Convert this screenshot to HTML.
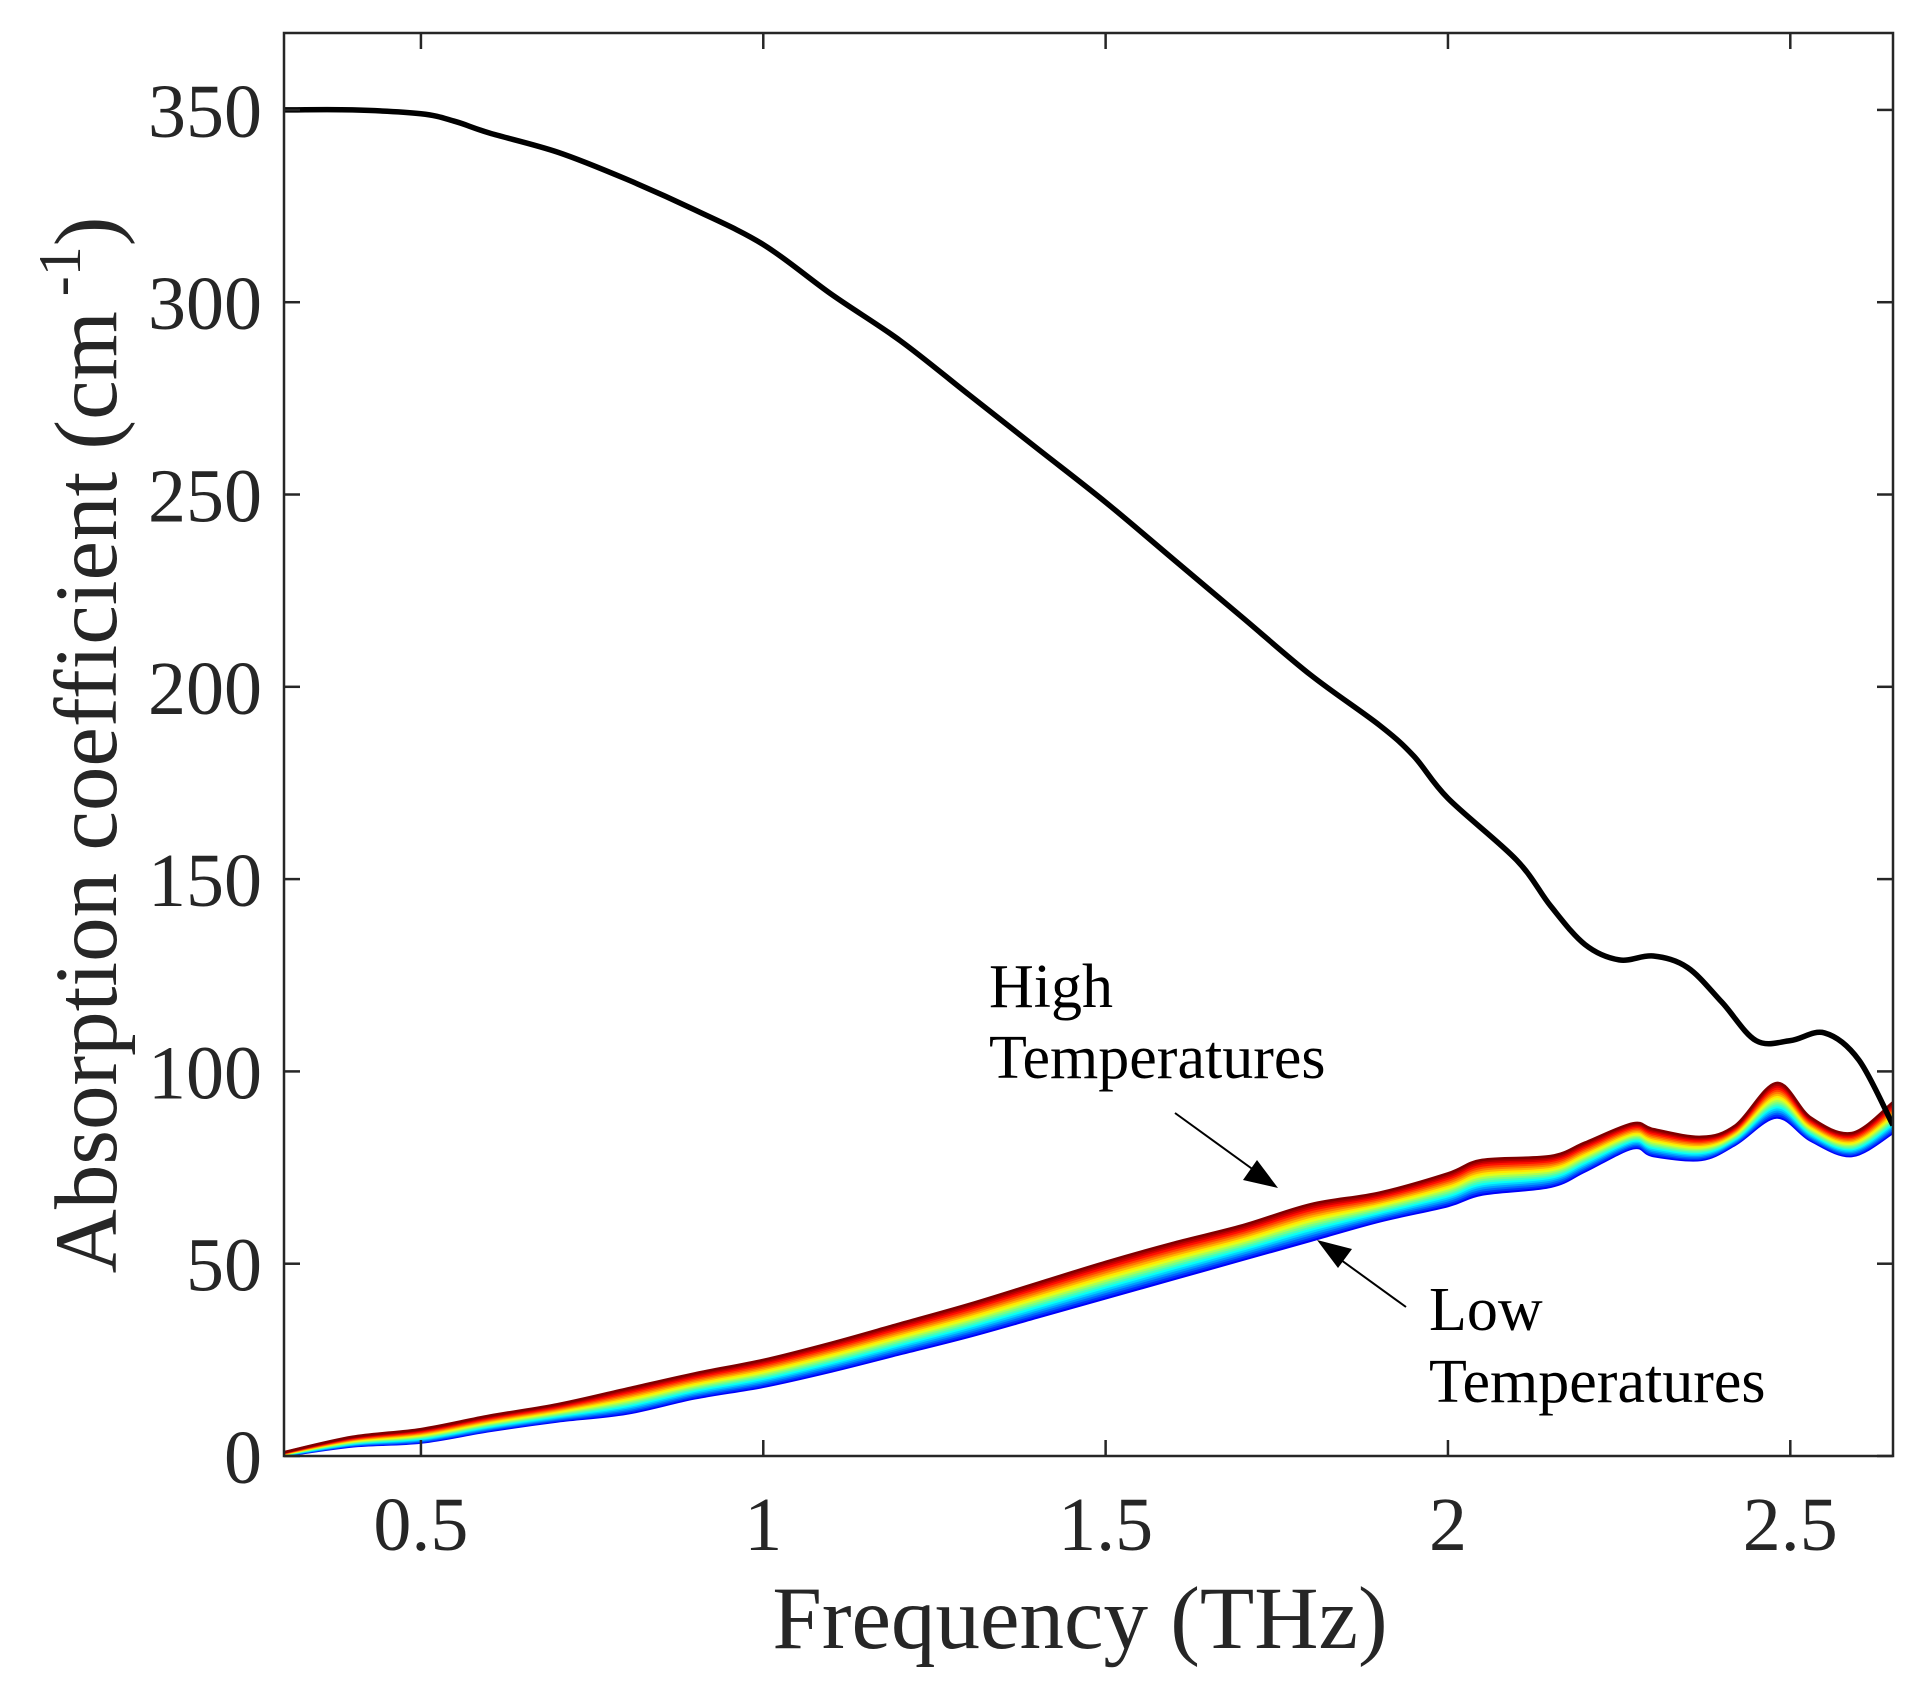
<!DOCTYPE html>
<html><head><meta charset="utf-8"><style>
html,body{margin:0;padding:0;background:#fff;}
svg{display:block;font-family:"Liberation Serif",serif;}
</style></head><body>
<svg id="chart" width="1922" height="1688" viewBox="0 0 1922 1688" xmlns="http://www.w3.org/2000/svg">
<g id="marks"></g>
<g id="axes"></g>
<text x="1080" y="1648" font-size="89" text-anchor="middle" fill="#262626">Frequency (THz)</text>
<text transform="translate(116,745) rotate(-90)" font-size="89" text-anchor="middle" fill="#262626">Absorption coefficient (cm<tspan font-size="60" dy="-36"> -1</tspan><tspan dy="36">)</tspan></text>
<text x="989" y="1007" font-size="62" fill="#000">High</text>
<text x="989" y="1078" font-size="62" fill="#000">Temperatures</text>
<text x="1429" y="1330" font-size="62" fill="#000">Low</text>
<text x="1429" y="1402" font-size="62" fill="#000">Temperatures</text>
<line x1="1175" y1="1113" x2="1262" y2="1176" stroke="#000" stroke-width="2"/>
<polygon points="1278,1188 1243,1180 1257,1160" fill="#000"/>
<line x1="1406" y1="1307" x2="1330" y2="1252" stroke="#000" stroke-width="2"/>
<polygon points="1317,1240 1352,1249 1338,1268" fill="#000"/>
</svg>
<script>
const xTicks=[0.5,1,1.5,2,2.5];
const xTickLabels=["0.5","1","1.5","2","2.5"];
const yTicks=[0,50,100,150,200,250,300,350];
const yTickLabels=["0","50","100","150","200","250","300","350"];
const refFreq=[0.3,0.4,0.5,0.55,0.6,0.7,0.8,0.9,1.0,1.1,1.2,1.3,1.4,1.5,1.6,1.7,1.8,1.9,1.95,2.0,2.1,2.15,2.2,2.25,2.3,2.35,2.4,2.45,2.5,2.55,2.6,2.65];
const refAbs=[350,350,349,347,344,339,332,324,315,302,290,276,262,248,233,218,203,190,182,171,155,143,133,129,130,127,118,108,108,110,103,86];
const tFreq=[0.3,0.4,0.5,0.6,0.7,0.8,0.9,1.0,1.1,1.2,1.3,1.4,1.5,1.6,1.7,1.8,1.9,2.0,2.05,2.15,2.2,2.27,2.3,2.37,2.42,2.48,2.53,2.59,2.65];
const lowTemp=[0,2.5,3.5,6.5,9,11,15,18,22,26.5,31,36,41,46,51,56,61,65,68,70,74,80,78,77,81,88,82,78,84];
const highTemp=[1,5,7,10.5,13.5,17.5,21.5,25,29.5,34.5,39.5,45,50.5,55.5,60,65.5,68.5,73.5,77,78,81.5,86.5,85,83,86,97,88,84,92];
const tempWeights=[0,0.06,0.12,0.18,0.24,0.3,0.36,0.42,0.48,0.54,0.6,0.66,0.72,0.78,0.84,0.9,0.95,1];

const X0=284,X1=1893,Y0=1456,Y1=33,XMIN=0.3,XMAX=2.65,YMIN=0,YMAX=370;
const sx=v=>X0+(v-XMIN)/(XMAX-XMIN)*(X1-X0);
const sy=v=>Y0-(v-YMIN)/(YMAX-YMIN)*(Y0-Y1);
const NS="http://www.w3.org/2000/svg";
const marks=document.getElementById('marks'),axes=document.getElementById('axes');
function mk(tag,attrs,parent){const e=document.createElementNS(NS,tag);for(const k in attrs)e.setAttribute(k,attrs[k]);parent.appendChild(e);return e;}
function smooth(xs,ys){let p=xs.map((x,i)=>[sx(x),sy(ys[i])]);let d="M"+p[0][0]+","+p[0][1];
for(let i=0;i<p.length-1;i++){const a=p[Math.max(0,i-1)],b=p[i],c=p[i+1],e=p[Math.min(p.length-1,i+2)];
d+=" C"+(b[0]+(c[0]-a[0])/6)+","+(b[1]+(c[1]-a[1])/6)+" "+(c[0]-(e[0]-b[0])/6)+","+(c[1]-(e[1]-b[1])/6)+" "+c[0]+","+c[1];}return d;}
function jet(t){const r=Math.min(1,Math.max(0,1.5-Math.abs(4*t-3))),g=Math.min(1,Math.max(0,1.5-Math.abs(4*t-2))),b=Math.min(1,Math.max(0,1.5-Math.abs(4*t-1)));return`rgb(${r*255|0},${g*255|0},${b*255|0})`;}
const clip=mk('clipPath',{id:'cp'},marks);mk('rect',{x:X0,y:Y1,width:X1-X0,height:Y0-Y1},clip);
const g=mk('g',{'clip-path':'url(#cp)'},marks);
tempWeights.forEach((w,i)=>{const ys=lowTemp.map((v,j)=>v+w*(highTemp[j]-v));
const t=0.12+0.88*w;
const p=mk('path',{d:smooth(tFreq,ys),fill:'none',stroke:jet(t),'stroke-width':2.5},g);

});
const bl=mk('path',{d:smooth(refFreq,refAbs),fill:'none',stroke:'#000','stroke-width':5.5,'stroke-linejoin':'round'},g);


const fr=mk('rect',{x:X0,y:Y1,width:X1-X0,height:Y0-Y1,fill:'none',stroke:'#262626','stroke-width':2.5},axes);


xTicks.forEach((v,i)=>{const x=sx(v);
mk('line',{x1:x,x2:x,y1:Y0,y2:Y0-16,stroke:'#262626','stroke-width':2.5},axes);
mk('line',{x1:x,x2:x,y1:Y1,y2:Y1+16,stroke:'#262626','stroke-width':2.5},axes);
const t=mk('text',{x:x,y:1550,'font-size':76,'text-anchor':'middle',fill:'#262626'},axes);t.textContent=xTickLabels[i];

});
yTicks.forEach((v,i)=>{const y=sy(v);
mk('line',{x1:X0,x2:X0+16,y1:y,y2:y,stroke:'#262626','stroke-width':2.5},axes);
mk('line',{x1:X1,x2:X1-16,y1:y,y2:y,stroke:'#262626','stroke-width':2.5},axes);
const t=mk('text',{x:262,y:y+27,'font-size':76,'text-anchor':'end',fill:'#262626'},axes);t.textContent=yTickLabels[i];

});
</script>
</body></html>
